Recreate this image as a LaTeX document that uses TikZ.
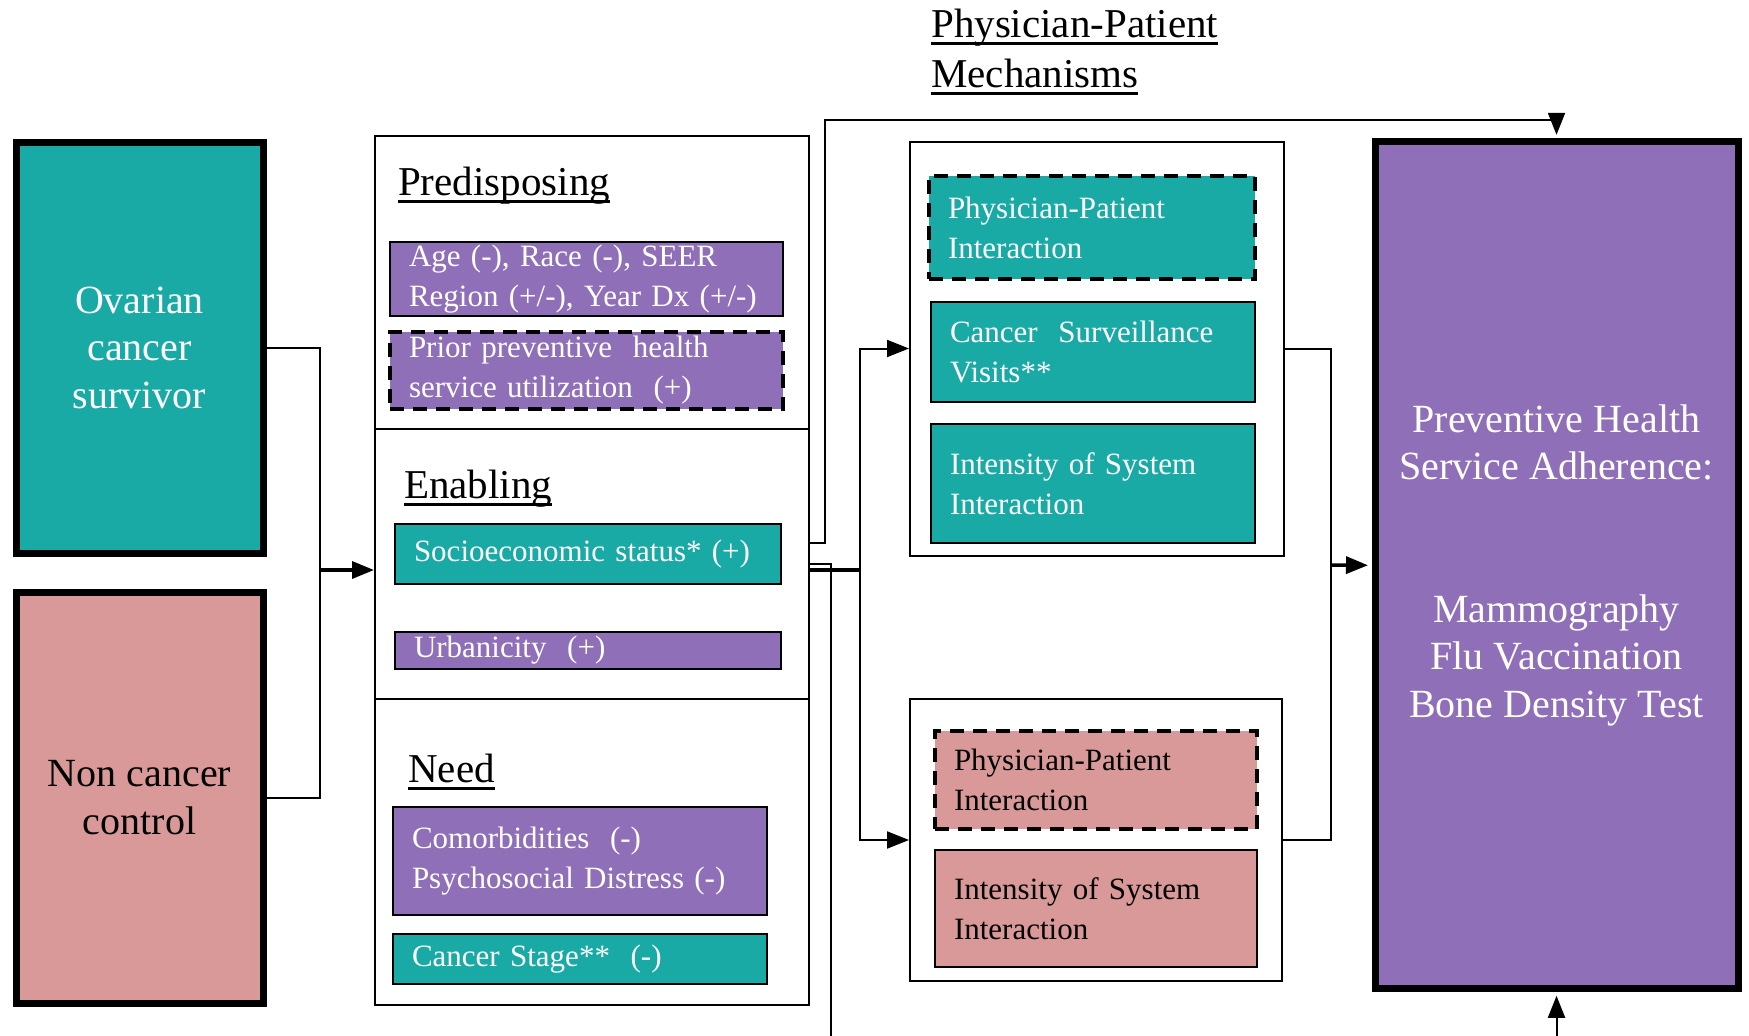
\documentclass[tikz,border=0pt]{standalone}
\usepackage{fontspec}
\setmainfont{Liberation Serif}
\usetikzlibrary{arrows.meta}
\newsavebox{\ulsave}
\newcommand{\ulbox}[1]{\sbox{\ulsave}{#1}\rlap{\rule[-7.5pt]{\wd\ulsave}{2.5pt}}\usebox{\ulsave}}

\begin{document}
\begin{tikzpicture}[x=1pt, y=-1pt, >={Triangle[length=22pt,width=17pt]},
    bigbox/.style={draw, line width=7pt, minimum width=247pt, minimum height=411pt,
        inner sep=0pt, align=center, font=\fontsize{40}{47.5}\selectfont},
    groupbox/.style={draw, line width=2pt, minimum width=434pt, inner sep=0pt},
    mechbox/.style={draw, line width=2pt, inner sep=0pt},
    itembox/.style={draw, line width=2.5pt, align=left, inner xsep=19pt, inner ysep=0pt,
        text=white, font=\fontsize{31}{40}\selectfont},
    dashbox/.style={itembox, line width=4pt, dash pattern=on 14pt off 9pt},
    heading/.style={anchor=base west, inner sep=0pt, align=left, font=\fontsize{41}{50}\selectfont},
    link/.style={line width=2pt},
    thicklink/.style={line width=3.5pt}]
        % Farben
        \definecolor{ciTeal}{HTML}{1AAAA6}
        \definecolor{ciPurple}{HTML}{8F6FB8}
        \definecolor{ciPink}{HTML}{DA9999}

        \useasboundingbox (0,0) rectangle (1749,1036);

        % Gruppen
        \node[bigbox, fill=ciTeal, text=white] (ovarian) at (139.5,347.5) {Ovarian\\cancer\\survivor};
        \node[bigbox, fill=ciPink] (noncancer) at (139.5,797.5) {Non cancer\\control};

        \foreach \n/\y/\h in {pred/282.5/293, enab/564/270, need/852/306}
            \node[groupbox, minimum height=\h pt] (\n) at (592,\y) {};

        \node[heading] (predh) at (398,195) {\ulbox{Predisposing}};
        \node[heading] (enabh) at (404,498) {\ulbox{Enabling}};
        \node[heading] (needh) at (408,782) {\ulbox{Need}};

        % Faktoren
        \node[itembox, fill=ciPurple, text width=355pt, minimum height=74pt] (age) at (586.5,279)
            {Age (-), Race (-), SEER\\Region (+/-), Year Dx (+/-)};
        \node[dashbox, fill=ciPurple, text width=355pt, minimum height=77pt] (prior) at (586.5,370.5)
            {Prior preventive\ \ health\\service utilization\ \ (+)};
        \node[itembox, fill=ciTeal, text width=348pt, minimum height=60pt] (ses) at (588,554)
            {Socioeconomic status* (+)};
        \node[itembox, fill=ciPurple, text width=348pt, minimum height=37pt] (urban) at (588,650.5)
            {Urbanicity\ \ (+)};
        \node[itembox, fill=ciPurple, text width=336pt, minimum height=108pt] (comorb) at (580,861)
            {Comorbidities\ \ (-)\\Psychosocial Distress (-)};
        \node[itembox, fill=ciTeal, text width=336pt, minimum height=50pt] (stage) at (580,959)
            {Cancer Stage**\ \ (-)};

        % Mechanismen
        \node[heading] (mechtitle) at (931,87) {\ulbox{Physician-Patient}\\\ulbox{Mechanisms}};
        \node[mechbox, minimum width=374pt, minimum height=414pt] (mechtop) at (1097,348.5) {};
        \node[mechbox, minimum width=372pt, minimum height=282pt] (mechbot) at (1096,840) {};

        \node[dashbox, fill=ciTeal, text width=288pt, minimum height=103pt] (ppteal) at (1092,227.5)
            {Physician-Patient\\Interaction};
        \node[itembox, fill=ciTeal, text width=286pt, minimum height=100pt] (surv) at (1093,352)
            {Cancer\ \ Surveillance\\Visits**};
        \node[itembox, fill=ciTeal, text width=286pt, minimum height=119pt] (intteal) at (1093,483.5)
            {Intensity of System\\Interaction};
        \node[dashbox, fill=ciPink, text=black, text width=284pt, minimum height=98pt] (pppink) at (1096,780)
            {Physician-Patient\\Interaction};
        \node[itembox, fill=ciPink, text=black, text width=284pt, minimum height=117pt] (intpink) at (1096,908.5)
            {Intensity of System\\Interaction};

        % Ergebnis
        \node[bigbox, fill=ciPurple, text=white, minimum width=363pt, minimum height=847pt] (outcome) at (1556.5,565.3)
            {Preventive Health\\Service Adherence:\\[95pt]Mammography\\Flu Vaccination\\Bone Density Test};

        % Verbindungen
        \coordinate (join) at (320,570);
        \coordinate (overA) at (825,120);
        \coordinate (downB) at (831,1040);
        \coordinate (fork) at (860,570);
        \coordinate (merge) at (1331,565);
        \coordinate (fromBelow) at (1556.5,1040);

        \draw[link] (ovarian.east) -| (join);
        \draw[link] (noncancer.east) -| (join);
        \draw[thicklink, ->] (join) -- (join -| enab.west);

        \draw[link, ->, shorten >=3.5pt] ([yshift=21pt]enab.east) -| (overA) -| (outcome.north);
        \draw[link] (enab.east) -| (downB);
        \draw[thicklink] ([yshift=-6pt]enab.east) -- (fork);
        \draw[link, ->] (fork) |- (mechtop.west);
        \draw[link, ->] (fork) |- (mechbot.west);

        \draw[link] (mechtop.east) -| (merge);
        \draw[link] (mechbot.east) -| (merge);
        \draw[thicklink, ->, shorten >=3.5pt] (merge) -- (outcome.west);
        \draw[link, ->, shorten >=3.5pt] (fromBelow) -- (outcome.south);
\end{tikzpicture}
\end{document}
